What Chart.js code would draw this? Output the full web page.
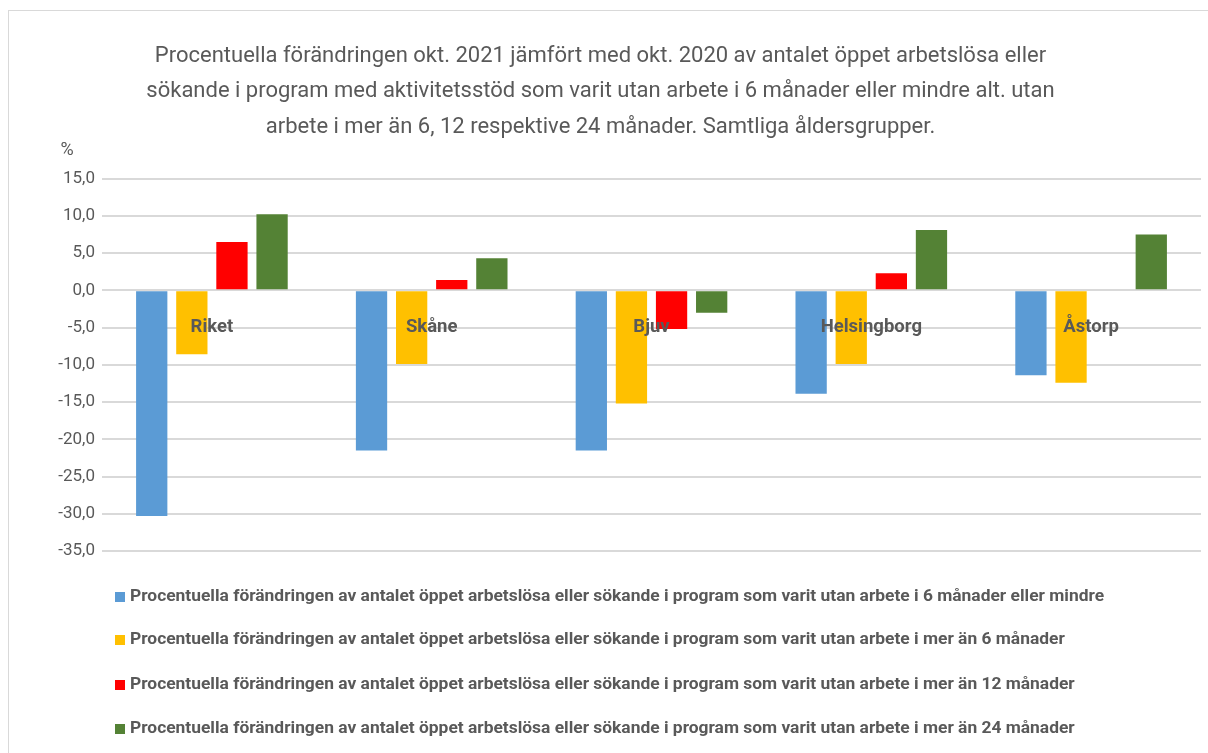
<!DOCTYPE html>
<html>
<head>
<meta charset="utf-8">
<script src="https://cdn.jsdelivr.net/npm/chart.js@4"></script>
<style>
  html, body { margin: 0; padding: 0; background: #fff; overflow: hidden; }
  #wrap { position: relative; width: 1208px; height: 753px; }
</style>
</head>
<body>
<div id="wrap"><canvas id="chart" width="1208" height="753"></canvas></div>
<script>
const FONT = "'Liberation Sans Narrow', 'Roboto', 'Open Sans', sans-serif";
const GREY = '#595959';

const categories = ['Riket', 'Skåne', 'Bjuv', 'Helsingborg', 'Åstorp'];
const upTo6 = [-30.3, -21.5, -21.5, -13.9, -11.4];
const over6 = [-8.6, -9.9, -15.2, -9.9, -12.4];
const over12 = [6.5, 1.4, -5.2, 2.3, 0.0];
const over24 = [10.2, 4.3, -3.0, 8.1, 7.5];

const seriesLabels = [
    'Procentuella förändringen av antalet öppet arbetslösa eller sökande i program som varit utan arbete i 6 månader eller mindre',
    'Procentuella förändringen av antalet öppet arbetslösa eller sökande i program som varit utan arbete i mer än 6 månader',
    'Procentuella förändringen av antalet öppet arbetslösa eller sökande i program som varit utan arbete i mer än 12 månader',
    'Procentuella förändringen av antalet öppet arbetslösa eller sökande i program som varit utan arbete i mer än 24 månader'
];
const seriesColors = ['#5B9BD5', '#FFC000', '#FF0000', '#548235'];

const titleLines = [
    'Procentuella förändringen okt. 2021 jämfört med okt. 2020 av antalet öppet arbetslösa eller',
    'sökande i program med aktivitetsstöd som varit utan arbete i 6 månader eller mindre alt. utan',
    'arbete i mer än 6, 12 respektive 24 månader. Samtliga åldersgrupper.'
];

// frame, category labels, "%" and legend
const extras = {
    id: 'extras',
    beforeDraw(chart) {
        const ctx = chart.ctx;
        ctx.save();
        ctx.strokeStyle = '#d9d9d9';
        ctx.lineWidth = 1;
        ctx.strokeRect(8.5, 10.5, 1400, 900);
        ctx.restore();
    },
    afterDatasetsDraw(chart) {
        const ctx = chart.ctx;
        const x = chart.scales.x, y = chart.scales.y;
        ctx.save();
        ctx.fillStyle = GREY;
        ctx.font = 'bold 18.5px ' + FONT;
        ctx.textAlign = 'center';
        ctx.textBaseline = 'middle';
        categories.forEach((c, i) => {
            ctx.fillText(c, x.getPixelForValue(i), y.getPixelForValue(0) + 37);
        });
        ctx.font = '18px ' + FONT;
        ctx.fillText('%', 67, 150);

        // legend
        ctx.textAlign = 'left';
        ctx.font = 'bold 17.4px ' + FONT;
        const rows = [597, 640, 685, 729];
        chart.data.datasets.forEach((ds, i) => {
            ctx.fillStyle = ds.backgroundColor;
            ctx.fillRect(115, rows[i] - 5, 10, 10);
            ctx.fillStyle = GREY;
            ctx.fillText(ds.label, 130, rows[i]);
        });
        ctx.restore();
    }
};

new Chart(document.getElementById('chart'), {
    type: 'bar',
    data: {
        labels: categories,
        datasets: [upTo6, over6, over12, over24].map((d, i) => ({
            label: seriesLabels[i],
            data: d,
            backgroundColor: seriesColors[i],
            categoryPercentage: 0.73,
            barPercentage: 0.78
        }))
    },
    options: {
        responsive: false,
        animation: false,
        layout: { padding: { top: 10, left: 0, right: 7, bottom: 194 } },
        plugins: {
            legend: { display: false },
            tooltip: { enabled: false },
            title: {
                display: true,
                text: titleLines,
                color: GREY,
                font: { family: FONT, size: 22, weight: 'normal', lineHeight: 1.6 },
                padding: { top: 29, bottom: 34 }
            }
        },
        scales: {
            x: {
                ticks: { display: false },
                grid: { display: false },
                border: { display: false }
            },
            y: {
                min: -35,
                max: 15,
                afterFit(scale) { scale.width = 102; },
                ticks: {
                    stepSize: 5,
                    padding: 7,
                    color: GREY,
                    font: { family: FONT, size: 17 },
                    callback: v => v.toFixed(1).replace('.', ',')
                },
                grid: { color: '#d9d9d9', lineWidth: 2, drawTicks: false },
                border: { display: false }
            }
        }
    },
    plugins: [extras]
});
</script>
</body>
</html>
